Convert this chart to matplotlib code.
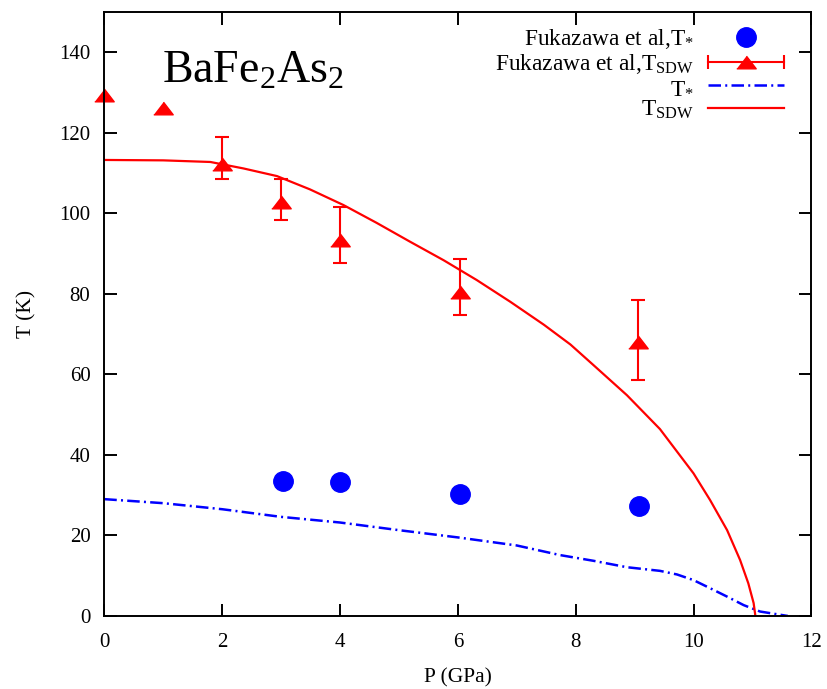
import matplotlib
matplotlib.use('Agg')
import matplotlib.pyplot as plt
from matplotlib.legend_handler import HandlerBase
from matplotlib.lines import Line2D

# Fukazawa et al. data
p_star = [3.03, 4.0, 6.04, 9.07]
t_star = [33.5, 33.3, 30.4, 27.2]

# T_SDW points without error bars
p_sdw_a = [0.0, 0.99]
t_sdw_a = [129.3, 126.2]
# T_SDW points with error bars
p_sdw = [2.0, 3.0, 4.0, 6.03, 9.05]
t_sdw = [112.2, 102.8, 93.3, 80.5, 68.1]
err_lo = [3.8, 4.4, 5.8, 5.8, 9.5]
err_hi = [6.7, 5.6, 8.3, 8.1, 10.3]

# theory curves
p_curve_sdw = [0, 1.0, 1.8, 2.36, 2.93, 3.49, 4.06, 4.62, 5.19, 5.76, 6.32, 6.89,
               7.46, 7.91, 8.30, 8.87, 9.43, 10.0, 10.28, 10.57, 10.79, 10.93,
               11.02, 11.05]
t_curve_sdw = [113.2, 113.1, 112.7, 111.1, 109.2, 105.9, 102.0, 97.6, 92.9, 88.3,
               83.4, 78.0, 72.3, 67.4, 62.3, 54.8, 46.4, 35.4, 28.8, 21.3, 13.9,
               8.1, 3.2, 0.0]

p_curve_star = [0, 1, 2, 3, 4, 5, 6, 7, 7.74, 8.30, 8.87, 9.43, 9.72, 10.0,
                10.28, 10.57, 10.85, 11.13, 11.6]
t_curve_star = [29.0, 28.0, 26.5, 24.6, 23.2, 21.3, 19.5, 17.5, 15.1, 13.7,
                12.1, 11.2, 10.3, 8.9, 6.9, 4.8, 2.7, 1.1, 0.0]

plt.rcParams['font.family'] = 'Liberation Serif'
plt.rcParams['mathtext.fontset'] = 'custom'
plt.rcParams['mathtext.rm'] = 'Liberation Serif'
plt.rcParams['mathtext.default'] = 'regular'

tri = [(-1, -0.65), (1, -0.65), (0, 0.65)]


class ErrHandler(HandlerBase):
    def create_artists(self, legend, orig_handle, xdescent, ydescent,
                       width, height, fontsize, trans):
        y = height / 2 - ydescent
        x0, x1 = -xdescent, width - xdescent
        ln = Line2D([x0, x1], [y, y], color='red', lw=1.5, transform=trans)
        caps = Line2D([x0, x1], [y, y], ls='none', marker='|', ms=9.5,
                      mew=1.5, color='red', transform=trans)
        m = Line2D([(x0 + x1) / 2], [y], ls='none', marker=tri, ms=14,
                   color='red', transform=trans)
        return [ln, caps, m]


fig = plt.figure(figsize=(8.27, 6.89), dpi=100)
ax = fig.add_axes([0.1261, 0.106, 0.855, 0.877])

h1, = ax.plot(p_star, t_star, 'o', color='blue', ms=14, ls='none')
ax.errorbar(p_sdw, t_sdw, yerr=[err_lo, err_hi], fmt='none', ecolor='red',
            elinewidth=1.5, capsize=4.7, capthick=1.5)
ax.plot(p_sdw, t_sdw, marker=tri, ms=14, color='red', ls='none')
ax.plot(p_sdw_a, t_sdw_a, marker=tri, ms=14, color='red', ls='none',
        clip_on=False)
h3, = ax.plot(p_curve_star, t_curve_star, color='blue', lw=1.8,
              ls=(0, (5, 1.7, 0.8, 1.7)))
h4, = ax.plot(p_curve_sdw, t_curve_sdw, color='red', lw=1.6)

h2 = Line2D([], [], color='red')
leg = ax.legend([h1, h2, h3, h4],
                [r'Fukazawa et al,T$_{*}$', r'Fukazawa et al,T$_{SDW}$',
                 r'T$_{*}$', r'T$_{SDW}$'],
                handler_map={h2: ErrHandler()},
                loc='upper right', bbox_to_anchor=(0.961, 0.975),
                frameon=False, markerfirst=False, fontsize=16.8,
                handlelength=3.25, handletextpad=0.6, labelspacing=0.04,
                borderpad=0, borderaxespad=0, numpoints=1)

ax.text(0.0816, 0.883, r'BaFe$_2$As$_2$', transform=ax.transAxes,
        fontsize=33, va='baseline')

ax.set_xlim(0, 12)
ax.set_ylim(0, 150)
ax.set_xticks(range(0, 13, 2))
ax.set_yticks(range(0, 141, 20))
ax.tick_params(direction='in', top=True, right=True, length=9, width=1.4,
               labelsize=15)
ax.tick_params(axis='x', pad=12)
ax.tick_params(axis='y', pad=10)
for s in ax.spines.values():
    s.set_linewidth(1.4)

ax.set_xlabel('P (GPa)', fontsize=15.5, labelpad=12)
ax.set_ylabel('T (K)', fontsize=15.5, labelpad=16)

fig.savefig('out.png', dpi=100)
